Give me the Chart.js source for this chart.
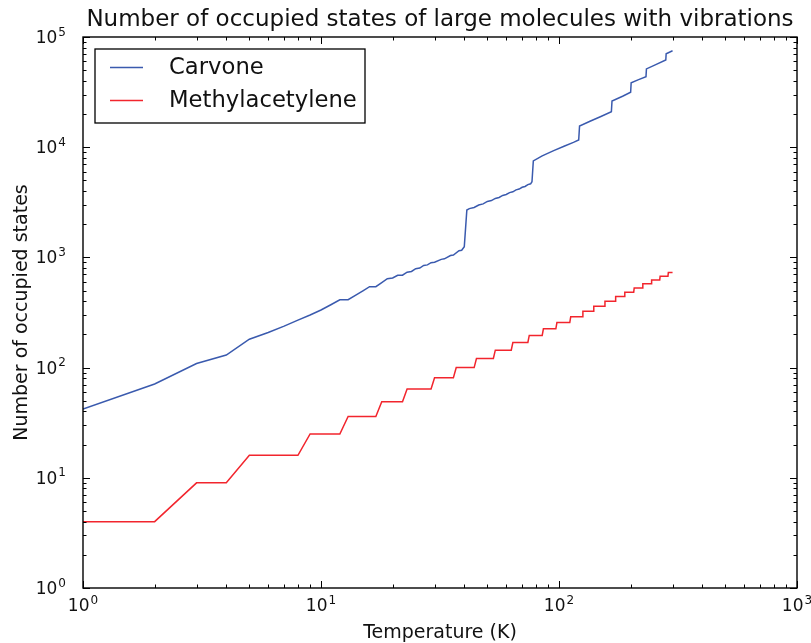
<!DOCTYPE html>
<html>
<head>
<meta charset="utf-8">
<script src="https://cdn.jsdelivr.net/npm/chart.js@4/dist/chart.umd.min.js"></script>
<style>
  html, body { margin: 0; padding: 0; background: #fff; }
  #wrap { width: 811px; height: 643px; position: relative; }
</style>
</head>
<body>
<div id="wrap"><canvas id="chart" width="811" height="643"></canvas></div>
<script>
// Texts
const chartTitle = 'Number of occupied states of large molecules with vibrations';
const xAxisLabel = 'Temperature (K)';
const yAxisLabel = 'Number of occupied states';
const seriesNames = ['Carvone', 'Methylacetylene'];

// Carvone: temperature (K) and number of occupied states
const carvoneT = [1, 2, 3, 4, 5, 6, 7, 8, 9, 10, 11, 12, 13, 14, 15, 16, 17, 18, 19, 20,
  21, 22, 23, 24, 25, 26, 27, 28, 29, 30, 32, 33, 35, 36, 38, 39, 40,
  41, 42, 44, 46, 48, 50, 52, 54, 56, 58, 60, 62, 64, 66, 68, 70, 72, 74, 76, 77,
  78, 85, 95, 105, 115, 121,
  122, 135, 150, 166,
  167, 185, 200,
  201, 216, 232,
  233, 255, 281,
  282, 300];
const carvoneN = [42, 71, 109, 130, 181, 208, 238, 270, 300, 333, 372, 413, 413, 455, 497, 542, 542, 590, 641, 650,
  689, 689, 735, 745, 790, 800, 845, 855, 895, 905, 960, 970, 1040, 1050, 1150, 1160, 1250,
  2690, 2770, 2840, 2990, 3060, 3220, 3280, 3430, 3500, 3650, 3720, 3870, 3940, 4100, 4170, 4330, 4400, 4580, 4650, 4860,
  7500, 8350, 9300, 10200, 11050, 11620,
  15570, 17200, 19000, 21000,
  26250, 29000, 31500,
  38500, 41000, 43600,
  51300, 56200, 61800,
  70500, 75000];

// Methylacetylene: plateau corners
const methylT = [1, 2, 3, 4, 5, 8, 9, 12, 13, 17, 18, 22, 23, 29, 30, 36, 37, 44, 45, 53,
  54, 63, 64, 74, 75, 85, 86, 97, 98, 111, 112, 125, 126, 139, 140, 155, 156, 172,
  173, 188, 189, 206, 207, 224, 225, 244, 245, 265, 266, 287, 288, 300];
const methylN = [4, 4, 9, 9, 16, 16, 25, 25, 36, 36, 49, 49, 64, 64, 81, 81, 100, 100, 121, 121,
  144, 144, 169, 169, 196, 196, 225, 225, 256, 256, 289, 289, 324, 324, 361, 361, 400, 400,
  441, 441, 484, 484, 529, 529, 576, 576, 625, 625, 676, 676, 729, 729];

// Axes
const xTickValues = [1, 10, 100, 1000];
const xTickLabels = ['10^0', '10^1', '10^2', '10^3'];
const yTickValues = [1, 10, 100, 1000, 10000, 100000];
const yTickLabels = ['10^0', '10^1', '10^2', '10^3', '10^4', '10^5'];
const minorSteps = [2, 3, 4, 5, 6, 7, 8, 9];

const lineColors = ['#3a5aae', '#f2252d'];
const FONT = "'DejaVu Sans', sans-serif";

function toPoints(xs, ys) {
  return xs.map((x, i) => ({ x: x, y: ys[i] }));
}

// draws "10^n" with a raised exponent; align: 'center' or 'right'
function drawPowerLabel(ctx, text, x, baseline, align) {
  const parts = text.split('^');
  ctx.font = '17px ' + FONT;
  const wBase = ctx.measureText(parts[0]).width;
  ctx.font = '12px ' + FONT;
  const wExp = ctx.measureText(parts[1]).width;
  const total = wBase + wExp + 1;
  const x0 = align === 'right' ? x - total : x - total / 2;
  ctx.textAlign = 'left';
  ctx.textBaseline = 'alphabetic';
  ctx.font = '17px ' + FONT;
  ctx.fillText(parts[0], x0, baseline);
  ctx.font = '12px ' + FONT;
  ctx.fillText(parts[1], x0 + wBase + 1, baseline - 7.5);
}

// frame, inward ticks on all four sides, tick labels, titles and legend
const decorPlugin = {
  id: 'decor',
  afterDatasetsDraw(chart) {
    const ctx = chart.ctx;
    const area = chart.chartArea;
    const xs = chart.scales.x;
    const ys = chart.scales.y;
    ctx.save();
    ctx.strokeStyle = '#000';
    ctx.lineWidth = 1;

    function xTick(v, len) {
      const px = Math.round(xs.getPixelForValue(v)) + 0.5;
      ctx.beginPath();
      ctx.moveTo(px, area.bottom); ctx.lineTo(px, area.bottom - len);
      ctx.moveTo(px, area.top); ctx.lineTo(px, area.top + len);
      ctx.stroke();
    }
    function yTick(v, len) {
      const py = Math.round(ys.getPixelForValue(v)) + 0.5;
      ctx.beginPath();
      ctx.moveTo(area.left, py); ctx.lineTo(area.left + len, py);
      ctx.moveTo(area.right, py); ctx.lineTo(area.right - len, py);
      ctx.stroke();
    }
    xTickValues.forEach((v, i) => {
      xTick(v, 7);
      if (i < xTickValues.length - 1) minorSteps.forEach(m => xTick(v * m, 3.5));
    });
    yTickValues.forEach((v, i) => {
      yTick(v, 7);
      if (i < yTickValues.length - 1) minorSteps.forEach(m => yTick(v * m, 3.5));
    });

    ctx.lineWidth = 1.4;
    ctx.strokeRect(area.left, area.top, area.right - area.left, area.bottom - area.top);

    // tick labels
    ctx.fillStyle = '#111';
    xs.ticks.forEach((t, i) => {
      drawPowerLabel(ctx, xTickLabels[i], xs.getPixelForValue(t.value), 611, 'center');
    });
    ys.ticks.forEach((t, i) => {
      drawPowerLabel(ctx, yTickLabels[i], 66, ys.getPixelForValue(t.value) + 6, 'right');
    });

    // texts
    ctx.textAlign = 'center';
    ctx.textBaseline = 'middle';
    ctx.font = '23px ' + FONT;
    ctx.fillText(chartTitle, (area.left + area.right) / 2, 20);
    ctx.font = '19px ' + FONT;
    ctx.fillText(xAxisLabel, (area.left + area.right) / 2, 633);
    ctx.save();
    ctx.translate(22, (area.top + area.bottom) / 2);
    ctx.rotate(-Math.PI / 2);
    ctx.fillText(yAxisLabel, 0, 0);
    ctx.restore();

    // legend
    ctx.fillStyle = '#fff';
    ctx.fillRect(95, 49, 270, 74);
    ctx.lineWidth = 1.3;
    ctx.strokeStyle = '#000';
    ctx.strokeRect(95, 49, 270, 74);
    ctx.font = '22.7px ' + FONT;
    ctx.textAlign = 'left';
    chart.data.datasets.forEach((ds, i) => {
      const y = 67.5 + i * 33;
      ctx.strokeStyle = ds.borderColor;
      ctx.lineWidth = 1.5;
      ctx.beginPath();
      ctx.moveTo(110, y); ctx.lineTo(143, y);
      ctx.stroke();
      ctx.fillStyle = '#111';
      ctx.fillText(ds.label, 169, y + 1);
    });
    ctx.restore();
  }
};

new Chart(document.getElementById('chart'), {
  type: 'line',
  data: {
    datasets: [
      {
        label: seriesNames[0],
        data: toPoints(carvoneT, carvoneN),
        borderColor: lineColors[0],
        borderWidth: 1.5,
        pointRadius: 0,
        tension: 0,
        fill: false
      },
      {
        label: seriesNames[1],
        data: toPoints(methylT, methylN),
        borderColor: lineColors[1],
        borderWidth: 1.5,
        pointRadius: 0,
        tension: 0,
        fill: false
      }
    ]
  },
  options: {
    responsive: false,
    animation: false,
    layout: { padding: { top: 37, right: 14, left: 0, bottom: 0 } },
    plugins: {
      legend: { display: false },
      title: { display: false },
      tooltip: { enabled: false }
    },
    scales: {
      x: {
        type: 'logarithmic',
        min: 1,
        max: 1000,
        grid: { display: false },
        border: { display: false },
        afterBuildTicks: scale => { scale.ticks = xTickValues.map(v => ({ value: v })); },
        afterFit: scale => { scale.height = 55; scale.paddingLeft = 0; scale.paddingRight = 0; },
        ticks: { display: false, autoSkip: false, maxRotation: 0 }
      },
      y: {
        type: 'logarithmic',
        min: 1,
        max: 100000,
        grid: { display: false },
        border: { display: false },
        afterBuildTicks: scale => { scale.ticks = yTickValues.map(v => ({ value: v })); },
        afterFit: scale => { scale.width = 83; scale.paddingTop = 0; scale.paddingBottom = 0; },
        ticks: { display: false, autoSkip: false }
      }
    }
  },
  plugins: [decorPlugin]
});
</script>
</body>
</html>
